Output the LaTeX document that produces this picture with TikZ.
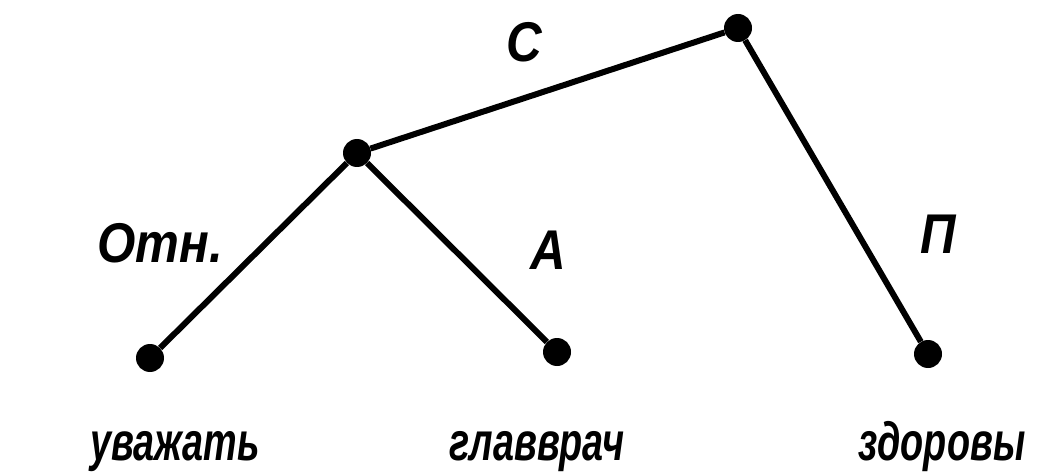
\documentclass[tikz,border=0pt]{standalone}
\usepackage{fontspec}
\setmainfont{Liberation Sans}
\begin{document}
\begin{tikzpicture}[x=1pt,y=-1pt,
  dot/.style={circle,fill=black,inner sep=0pt,minimum size=28pt},
  edge/.style={line width=6pt},
  lbl/.style={font=\fontsize{56}{56}\selectfont\bfseries\itshape,inner sep=0pt,xscale=0.88,transform shape},
  leaf/.style={font=\fontsize{54}{54}\selectfont\bfseries\itshape,inner sep=0pt,xscale=0.7,transform shape}]
\useasboundingbox (0,0) rectangle (1058,476);
\node[dot] (r) at (738,28) {};
\node[dot] (m) at (357,153) {};
\node[dot] (l1) at (150,358) {};
\node[dot] (l2) at (557,352) {};
\node[dot] (l3) at (928,354) {};
\draw[edge] (m) -- (r);
\draw[edge] (r) -- (l3);
\draw[edge] (m) -- (l1);
\draw[edge] (m) -- (l2);
\node[lbl] (c) at (524,42) {С};
\node[lbl] (o) at (160,243) {Отн.};
\node[lbl] (a) at (548,250) {А};
\node[lbl] (p) at (938,234) {П};
\node[leaf,anchor=base] (t1) at (175,460) {уважать};
\node[leaf,anchor=base] (t2) at (537,460) {главврач};
\node[leaf,anchor=base] (t3) at (942,460) {здоровы};
\end{tikzpicture}
\end{document}
